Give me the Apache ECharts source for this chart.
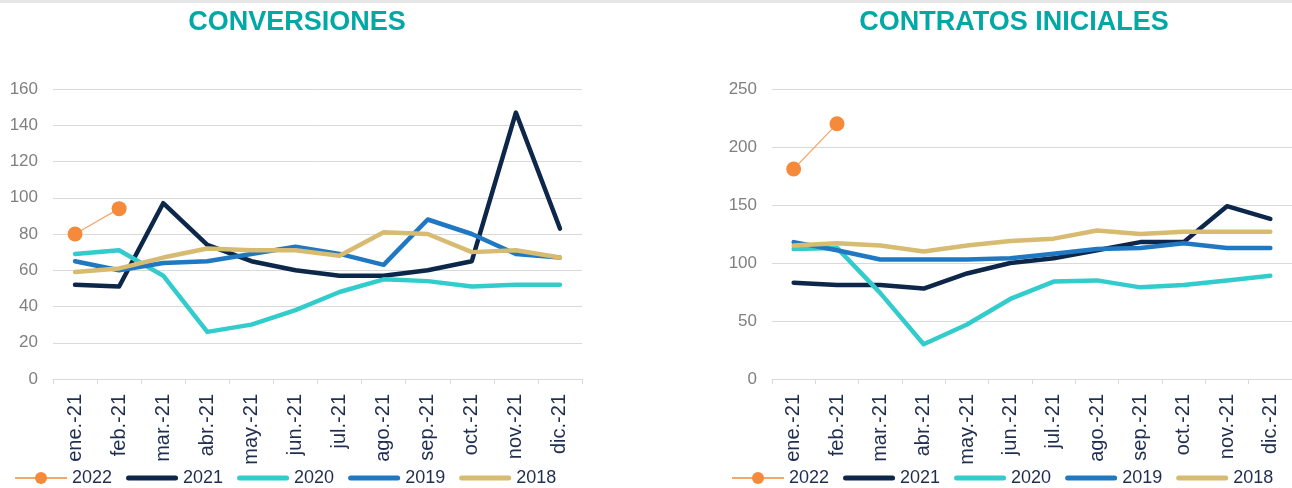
<!DOCTYPE html>
<html>
<head>
<meta charset="utf-8">
<script src="https://cdn.jsdelivr.net/npm/echarts@6/dist/echarts.min.js"></script>
<style>
  html, body { margin: 0; padding: 0; background: #fff; }
  .wrap { width: 1292px; height: 488px; position: relative; }
  .chart { position: absolute; top: 0; width: 646px; height: 488px; }
  #conv { left: 0; }
  #contr { left: 646px; }
</style>
</head>
<body>
<div class="wrap">
  <div id="conv" class="chart"></div>
  <div id="contr" class="chart"></div>
</div>
<script>
// datos
var meses = ['ene.-21', 'feb.-21', 'mar.-21', 'abr.-21', 'may.-21', 'jun.-21',
             'jul.-21', 'ago.-21', 'sep.-21', 'oct.-21', 'nov.-21', 'dic.-21'];
var anios = ['2022', '2021', '2020', '2019', '2018'];

// conversiones
var conv2022 = [80, 94];
var conv2021 = [52, 51, 97, 74, 65, 60, 57, 57, 60, 65, 147, 83];
var conv2020 = [69, 71, 57, 26, 30, 38, 48, 55, 54, 51, 52, 52];
var conv2019 = [65, 60, 64, 65, 69, 73, 69, 63, 88, 80, 69, 67];
var conv2018 = [59, 61, 67, 72, 71, 71, 68, 81, 80, 70, 71, 67];

// contratos iniciales
var ini2022 = [181, 220];
var ini2021 = [83, 81, 81, 78, 91, 100, 104, 111, 118, 118, 149, 138];
var ini2020 = [112, 113, 74, 30, 47, 69, 84, 85, 79, 81, 85, 89];
var ini2019 = [118, 111, 103, 103, 103, 104, 108, 112, 113, 117, 113, 113];
var ini2018 = [115, 117, 115, 110, 115, 119, 121, 128, 125, 127, 127, 127];

var colores = ['#F58A3A', '#0C2749', '#33CCCC', '#1F78C1', '#D6BB71'];
// icono de leyenda: barra gruesa con puntas redondeadas
var barra = 'path://M2.5,0 L49.5,0 A2.5,2.5 0 0 1 49.5,5 L2.5,5 A2.5,2.5 0 0 1 2.5,0 Z';

function opciones(titulo, centroTitulo, gridLeft, legendLeft, yMax, yInt, datos) {
  var series = datos.map(function (d, i) {
    var s = {
      name: anios[i],
      type: 'line',
      data: d,
      color: colores[i],
      animation: false
    };
    if (i === 0) {
      s.symbol = 'circle';
      s.symbolSize = 15;
      s.showSymbol = true;
      s.lineStyle = { width: 1.2, color: '#F6A66B' };
      s.itemStyle = { color: colores[0] };
      s.z = 3;
    } else {
      s.symbol = 'none';
      s.lineStyle = { width: 4.5, cap: 'round', join: 'round' };
    }
    return s;
  });

  var leyenda = anios.map(function (a, i) {
    return i === 0 ? { name: a } : { name: a, icon: barra };
  });

  return {
    graphic: [
      { type: 'rect', left: 0, top: 0, shape: { width: 646, height: 3 }, style: { fill: '#e6e6e6' } },
      {
        type: 'text', x: centroTitulo, y: 23,
        style: {
          text: titulo, fill: '#00A9A6', align: 'center', verticalAlign: 'middle',
          font: 'bold 27px "Liberation Sans", Arial, sans-serif'
        }
      }
    ],
    legend: {
      left: legendLeft,
      top: 469,
      padding: 0,
      itemWidth: 52,
      itemHeight: 15,
      itemGap: 14,
      textStyle: { fontSize: 18, color: '#1F2D4F', fontFamily: 'Liberation Sans' },
      data: leyenda
    },
    grid: { left: gridLeft, top: 89, width: 529, height: 290, containLabel: false },
    xAxis: {
      type: 'category',
      data: meses,
      boundaryGap: true,
      axisLine: { lineStyle: { color: '#d9d9d9' } },
      axisTick: { show: true, length: 5, lineStyle: { color: '#d9d9d9' } },
      axisLabel: {
        interval: 0, rotate: 90, margin: 15,
        color: '#1F2D4F', fontSize: 20, fontFamily: 'Liberation Sans'
      }
    },
    yAxis: {
      type: 'value',
      min: 0, max: yMax, interval: yInt,
      axisLine: { show: false },
      axisTick: { show: false },
      splitLine: { lineStyle: { color: '#d9d9d9' } },
      axisLabel: { margin: 15, color: '#808080', fontSize: 17, fontFamily: 'Liberation Sans' }
    },
    series: series
  };
}

var chartConv = echarts.init(document.getElementById('conv'));
chartConv.setOption(opciones('CONVERSIONES', 297, 53, 14, 160, 20,
  [conv2022, conv2021, conv2020, conv2019, conv2018]));

var chartContr = echarts.init(document.getElementById('contr'));
chartContr.setOption(opciones('CONTRATOS INICIALES', 368, 126, 85, 250, 50,
  [ini2022, ini2021, ini2020, ini2019, ini2018]));
</script>
</body>
</html>
